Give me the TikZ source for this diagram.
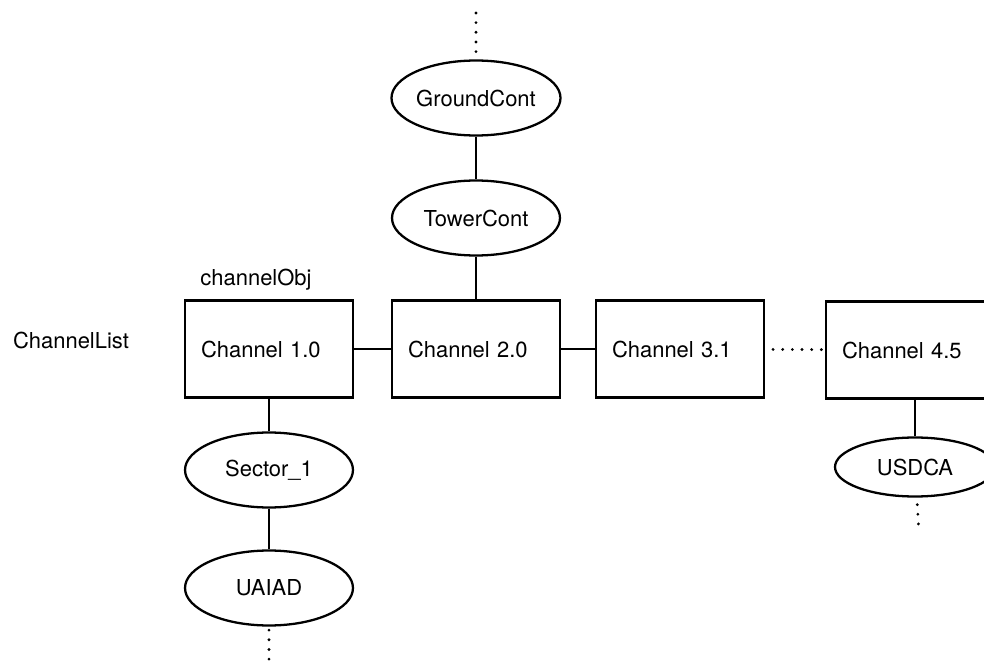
\documentclass[tikz,border=0pt]{standalone}
\usepackage{fontspec}
\setmainfont{TeX Gyre Heros}
\usetikzlibrary{shapes.geometric}
\begin{document}
\begin{tikzpicture}[x=0.02cm, y=-0.02cm, line width=1.3pt,
  every node/.style={font=\fontsize{12.5}{15}\selectfont},
  chan/.style={draw, minimum height=1.94cm, text width=2.72cm, align=left, inner xsep=0.32cm},
  ctrl/.style={draw, ellipse, minimum width=3.36cm, minimum height=1.5cm, inner sep=0pt},
  dots/.style={line width=1.8pt, dash pattern=on 0pt off 5.5pt, line cap=round}]

\useasboundingbox (0,0) rectangle (984,662);

% controllers above channel 2.0
\node[ctrl] (ground) at (476,98) {GroundCont};
\node[ctrl] (tower) at (476,218) {TowerCont};

% the channel list
\node (list) at (71,340) {ChannelList};
\node (obj) at (256,280) {channelObj};
\node[chan] (ch1) at (269,349) {Channel 1.0};
\node[chan] (ch2) at (476,349) {Channel 2.0};
\node[chan] (ch3) at (680,349) {Channel 3.1};
\node[chan] (ch4) at (910,350) {Channel 4.5};

% sectors below
\node[ctrl] (sector) at (269,470) {Sector\_1};
\node[ctrl] (uaiad) at (269,588) {UAIAD};
\node[ctrl, minimum width=3.2cm, minimum height=1.18cm] (usdca) at (915,467) {USDCA};

\coordinate (gtop) at (476,13);
\coordinate (ubot) at (269,662);
\coordinate (sbot) at (919,533);

\draw (ground) -- (tower);
\draw (tower) -- (ch2);
\draw (ch1) -- (ch2);
\draw (ch2) -- (ch3);
\draw (ch1) -- (sector);
\draw (sector) -- (uaiad);
\draw (usdca |- ch4.south) -- (usdca);

\draw[dots] (gtop) -- (ground);
\draw[dots, shorten <=4.5pt, shorten >=1pt] (ch3) -- (ch4);
\draw[dots, shorten <=2pt] (uaiad) -- (ubot);
\draw[dots, shorten <=4pt] (usdca) -- (sbot);

\end{tikzpicture}
\end{document}
